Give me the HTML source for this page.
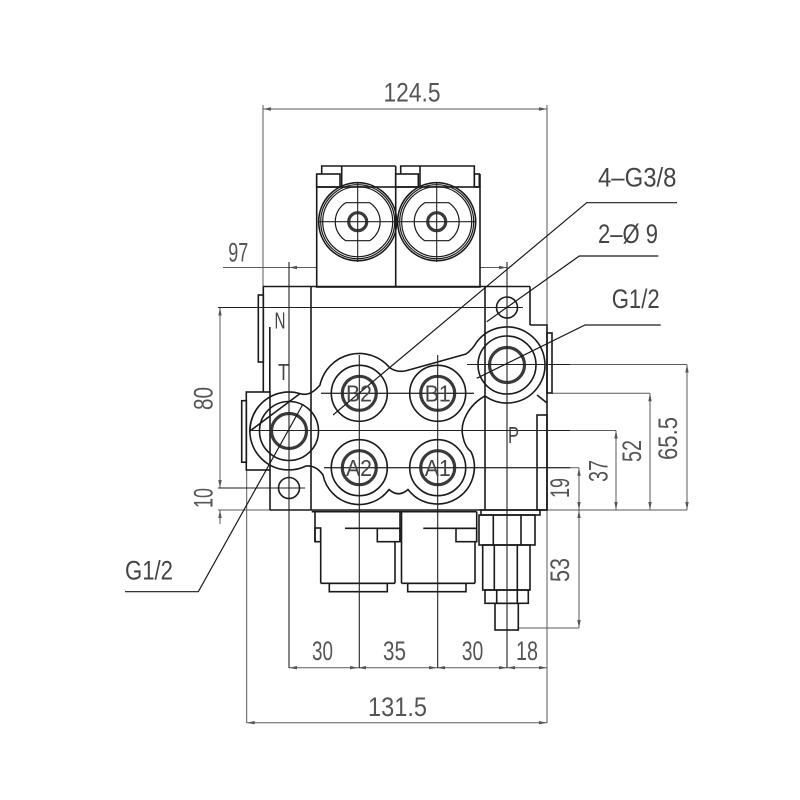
<!DOCTYPE html>
<html><head><meta charset="utf-8">
<style>
html,body{margin:0;padding:0;background:#fff;}
svg{display:block;}
.o{stroke:#1a1a1a;stroke-width:1.6;fill:none;}
.t{stroke:#1a1a1a;stroke-width:1.2;fill:none;}
.d{stroke:#5a5a5a;stroke-width:1;fill:none;}
.c{stroke:#222;stroke-width:1.1;fill:none;}
.b{stroke:#3a3a3a;stroke-width:3.2;fill:none;}
.a{fill:#555;stroke:none;}
text{font-family:"Liberation Sans",sans-serif;fill:#555;}
.lb{fill:#444;}
</style></head><body>
<svg width="800" height="800" viewBox="0 0 800 800" xmlns="http://www.w3.org/2000/svg">
<rect width="800" height="800" fill="#fff"/>

<!-- ===== Dimension / extension lines ===== -->
<g class="d">
  <!-- 124.5 -->
  <line x1="263" y1="109" x2="547" y2="109"/>
  <line x1="263" y1="105" x2="263" y2="287"/>
  <line x1="547" y1="105" x2="547" y2="325"/>
  <!-- 97 -->
  <line x1="223" y1="267.5" x2="507" y2="267.5"/>
  <!-- 80 / 10 -->
  <line x1="220" y1="307.5" x2="220" y2="488"/>
  <line x1="218" y1="307.5" x2="523" y2="307.5"/>
  <line x1="218" y1="488" x2="305" y2="488"/>
  <line x1="220" y1="510" x2="220" y2="524"/>
  <line x1="218" y1="510" x2="270" y2="510"/>
  <!-- right vertical dims -->
  <line x1="467" y1="364.5" x2="687" y2="364.5"/>
  <line x1="687" y1="364.5" x2="687" y2="510"/>
  <line x1="547" y1="510" x2="687" y2="510"/>
  <line x1="552" y1="393.3" x2="650" y2="393.3"/>
  <line x1="650" y1="393.3" x2="650" y2="510"/>
  <line x1="252" y1="430.5" x2="616" y2="430.5"/>
  <line x1="616" y1="430.5" x2="616" y2="510"/>
  <line x1="324" y1="467.7" x2="579" y2="467.7"/>
  <line x1="579" y1="467.7" x2="579" y2="628"/>
  <line x1="519" y1="628" x2="579" y2="628"/>
  <!-- bottom chain -->
  <line x1="289" y1="667.7" x2="547" y2="667.7"/>
  <line x1="547" y1="510" x2="547" y2="723"/>
  <line x1="246.7" y1="470" x2="246.7" y2="723"/>
  <line x1="246.7" y1="722.7" x2="547" y2="722.7"/>
  <!-- B row centre line segments -->
  <line x1="321" y1="393.3" x2="474" y2="393.3"/>
</g>

<!-- arrowheads -->
<g class="a">
  <polygon points="263,109 271,107.3 271,110.7"/>
  <polygon points="547,109 539,107.3 539,110.7"/>
  <polygon points="289,267.5 297,265.8 297,269.2"/>
  <polygon points="507,267.5 499,265.8 499,269.2"/>
  <polygon points="220,307.5 218.3,315.5 221.7,315.5"/>
  <polygon points="220,488 218.3,480 221.7,480"/>
  <polygon points="220,510 218.3,518 221.7,518"/>
  <polygon points="687,364.5 685.3,372.5 688.7,372.5"/>
  <polygon points="687,510 685.3,502 688.7,502"/>
  <polygon points="650,393.3 648.3,401.3 651.7,401.3"/>
  <polygon points="650,510 648.3,502 651.7,502"/>
  <polygon points="616,430.5 614.3,438.5 617.7,438.5"/>
  <polygon points="616,510 614.3,502 617.7,502"/>
  <polygon points="579,467.7 577.3,475.7 580.7,475.7"/>
  <polygon points="579,510 577.3,502 580.7,502"/>
  <polygon points="579,510 577.3,518 580.7,518"/>
  <polygon points="579,628 577.3,620 580.7,620"/>
  <polygon points="289,667.7 297,666 297,669.4"/>
  <polygon points="358,667.7 350,666 350,669.4"/>
  <polygon points="358,667.7 366,666 366,669.4"/>
  <polygon points="437,667.7 429,666 429,669.4"/>
  <polygon points="437,667.7 445,666 445,669.4"/>
  <polygon points="507,667.7 499,666 499,669.4"/>
  <polygon points="507,667.7 515,666 515,669.4"/>
  <polygon points="547,667.7 539,666 539,669.4"/>
  <polygon points="246.7,722.7 254.7,721 254.7,724.4"/>
  <polygon points="547,722.7 539,721 539,724.4"/>
</g>

<!-- ===== Handle block (top) ===== -->
<g class="o">
  <rect x="316.7" y="187" width="163.3" height="100" fill="#fff"/>
  <line x1="316.7" y1="174" x2="316.7" y2="187"/>
  <line x1="480" y1="174" x2="480" y2="187"/>
  <line x1="395.7" y1="166" x2="395.7" y2="287"/>
  <polyline points="321.7,174 321.7,166 395.7,166"/>
  <line x1="341.7" y1="166" x2="341.7" y2="187"/>
  <rect x="316.7" y="174" width="23.3" height="13"/>
  <polyline points="400.7,174 400.7,166 474.3,166 474.3,187"/>
  <line x1="420" y1="166" x2="420" y2="187"/>
  <rect x="395.7" y="174" width="22.6" height="13"/>
  <rect x="474.3" y="174" width="5" height="13"/>
</g>
<g>
  <circle cx="357.7" cy="221.7" r="39" class="o"/>
  <circle cx="357.7" cy="221.7" r="37" class="t"/>
  <circle cx="357.7" cy="221.7" r="35" class="t"/>
  <path class="t" d="M345.7,202.7 L369.7,202.7 A22.5,22.5 0 0 1 369.7,240.7 L345.7,240.7 A22.5,22.5 0 0 1 345.7,202.7 Z"/>
  <circle cx="357.7" cy="221.7" r="9" class="b"/>
  <circle cx="436.7" cy="221.7" r="39" class="o"/>
  <circle cx="436.7" cy="221.7" r="37" class="t"/>
  <circle cx="436.7" cy="221.7" r="35" class="t"/>
  <path class="t" d="M424.7,202.7 L448.7,202.7 A22.5,22.5 0 0 1 448.7,240.7 L424.7,240.7 A22.5,22.5 0 0 1 424.7,202.7 Z"/>
  <circle cx="436.7" cy="221.7" r="9" class="b"/>
</g>
<g class="c">
  <line x1="319" y1="221.7" x2="397" y2="221.7"/>
  <line x1="357.7" y1="183" x2="357.7" y2="262"/>
  <line x1="398" y1="221.7" x2="475" y2="221.7"/>
  <line x1="436.7" y1="183" x2="436.7" y2="262"/>
</g>

<!-- ===== Main body ===== -->
<g class="o">
  <line x1="263" y1="286.5" x2="530" y2="286.5"/>
  <line x1="263.3" y1="286.5" x2="263.3" y2="392"/>
  <rect x="258.3" y="295" width="5" height="67"/>
  <line x1="269.8" y1="327" x2="269.8" y2="392"/>
  <rect x="246.3" y="392" width="23.7" height="78" fill="#fff"/>
  <rect x="241.7" y="400.7" width="4.6" height="61.5"/>
  <line x1="270" y1="470" x2="270" y2="510"/>
  <line x1="270" y1="510" x2="547" y2="510"/>
  <line x1="311" y1="286.5" x2="311" y2="510"/>
  <line x1="485" y1="286.5" x2="485" y2="510"/>
  <line x1="530" y1="286.5" x2="530" y2="325"/>
  <polyline points="530,325 547,325 547,403"/>
  <rect x="547" y="333" width="5" height="60"/>
  <line x1="537" y1="395" x2="547" y2="403"/>
  <line x1="547" y1="403" x2="547" y2="510"/>
  <rect x="537" y="415" width="10" height="95"/>
</g>

<!-- port cluster outline -->
<path class="o" fill="#fff" d="M250,431 A39,39 0 0 1 300,393.6 Q310,397 320,385 A40,40 0 0 1 389.6,367.6 Q397,373 407,370.5 L466,354 Q472,350 477,341.6 A38,38 0 1 1 485,396 C470,404 459,422 463,437 Q465,447 471.2,452 A37,37 0 0 1 408,489.5 Q398.5,498 389,489.5 A37,37 0 0 1 323,475 Q316,465 306,466 A39,39 0 1 1 300,393.6 Z"/>

<!-- port rings and bores -->
<g>
  <circle cx="289" cy="431" r="29.5" class="o"/>
  <circle cx="289" cy="431" r="17.5" class="b"/>
  <circle cx="507" cy="365" r="29" class="o"/>
  <circle cx="507" cy="365" r="17.5" class="b"/>
  <circle cx="359.3" cy="393.3" r="28" class="o"/>
  <circle cx="359.3" cy="393.3" r="17" class="b"/>
  <circle cx="437.7" cy="393.3" r="28" class="o"/>
  <circle cx="437.7" cy="393.3" r="17" class="b"/>
  <circle cx="359.3" cy="467.7" r="28" class="o"/>
  <circle cx="359.3" cy="467.7" r="17" class="b"/>
  <circle cx="437.7" cy="467.7" r="28" class="o"/>
  <circle cx="437.7" cy="467.7" r="17" class="b"/>
  <circle cx="507" cy="307.5" r="10.5" class="o" fill="#fff"/>
  <circle cx="289" cy="488" r="10.5" class="o" fill="#fff"/>
</g>

<!-- ===== Bottom caps ===== -->
<g class="o">
  <line x1="311.7" y1="511.7" x2="476.7" y2="511.7"/>
  <line x1="315" y1="511.7" x2="315" y2="541.7"/>
  <rect x="315" y="528" width="5.7" height="13.7"/>
  <line x1="320.7" y1="528" x2="320.7" y2="583.3"/>
  <line x1="320.7" y1="583.3" x2="395" y2="583.3"/>
  <line x1="395" y1="541.7" x2="395" y2="583.3"/>
  <line x1="400" y1="511.7" x2="400" y2="541.7"/>
  <rect x="377.3" y="528.3" width="22.7" height="13.4"/>
  <line x1="345" y1="528.3" x2="400" y2="528.3"/>
  <rect x="329.3" y="583.3" width="58" height="8.4"/>

  <line x1="401.5" y1="511.7" x2="401.5" y2="583.3"/>
  <line x1="401.5" y1="583.3" x2="475" y2="583.3"/>
  <line x1="475" y1="541.7" x2="475" y2="583.3"/>
  <line x1="476.7" y1="511.7" x2="476.7" y2="541.7"/>
  <rect x="456" y="528.3" width="20.7" height="13.4"/>
  <line x1="423.3" y1="528.3" x2="476.7" y2="528.3"/>
  <rect x="407.7" y="583.3" width="58.3" height="8.4"/>

  <!-- right fitting -->
  <rect x="481" y="510" width="59" height="5"/>
  <rect x="479" y="515" width="56" height="30"/>
  <line x1="493.3" y1="515" x2="493.3" y2="545"/>
  <line x1="521" y1="515" x2="521" y2="545"/>
  <rect x="482.7" y="545" width="47.3" height="45"/>
  <line x1="494.3" y1="545" x2="494.3" y2="590"/>
  <line x1="517.3" y1="545" x2="517.3" y2="590"/>
  <rect x="485" y="590" width="43.3" height="13.3"/>
  <line x1="496.7" y1="590" x2="496.7" y2="603.3"/>
  <line x1="517.3" y1="590" x2="517.3" y2="603.3"/>
  <rect x="495" y="603.3" width="23.3" height="26.7"/>
</g>

<!-- ===== Centre lines ===== -->
<g class="c">
  <line x1="289" y1="262" x2="289" y2="668"/>
  <line x1="507" y1="262" x2="507" y2="668"/>
  <line x1="359.3" y1="355" x2="359.3" y2="668"/>
  <line x1="437.7" y1="355" x2="437.7" y2="668"/>
  <line x1="218" y1="307.5" x2="523" y2="307.5"/>
  <line x1="218" y1="488" x2="305" y2="488"/>
  <line x1="467" y1="364.5" x2="570" y2="364.5"/>
  <line x1="252" y1="430.5" x2="570" y2="430.5"/>
  <line x1="324" y1="467.7" x2="570" y2="467.7"/>
  <line x1="321" y1="393.3" x2="474" y2="393.3"/>
</g>

<!-- ===== Leaders ===== -->
<g class="t">
  <polyline points="677,202.7 586.7,202.7 333,415"/>
  <polyline points="658.3,256 579.3,256 486.7,321.7"/>
  <polyline points="660.7,325 585,325 476.7,378.3"/>
  <polyline points="125,591.7 198.3,591.7 303,404"/>
</g>

<!-- ===== Text ===== -->
<g font-size="27">
  <text x="383.5" y="101.5" textLength="57" lengthAdjust="spacingAndGlyphs">124.5</text>
  <text x="228.3" y="261.5" textLength="20" lengthAdjust="spacingAndGlyphs">97</text>
  <text x="368" y="716" textLength="59" lengthAdjust="spacingAndGlyphs">131.5</text>
  <text x="312" y="660" textLength="21" lengthAdjust="spacingAndGlyphs">30</text>
  <text x="383" y="660" textLength="23" lengthAdjust="spacingAndGlyphs">35</text>
  <text x="461.7" y="660" textLength="21.6" lengthAdjust="spacingAndGlyphs">30</text>
  <text x="516" y="660" textLength="22" lengthAdjust="spacingAndGlyphs">18</text>

  <text transform="translate(202.5,398.5) rotate(-90)" x="-11.5" y="10" textLength="23" lengthAdjust="spacingAndGlyphs">80</text>
  <text transform="translate(202.5,498) rotate(-90)" x="-10" y="10" textLength="20" lengthAdjust="spacingAndGlyphs">10</text>
  <text transform="translate(667,438.5) rotate(-90)" x="-21.5" y="10" textLength="43" lengthAdjust="spacingAndGlyphs">65.5</text>
  <text transform="translate(631,451) rotate(-90)" x="-11" y="10" textLength="22" lengthAdjust="spacingAndGlyphs">52</text>
  <text transform="translate(597.5,471) rotate(-90)" x="-11" y="10" textLength="22" lengthAdjust="spacingAndGlyphs">37</text>
  <text transform="translate(559,488) rotate(-90)" x="-10" y="10" textLength="20" lengthAdjust="spacingAndGlyphs">19</text>
  <text transform="translate(559,570) rotate(-90)" x="-12" y="10" textLength="24" lengthAdjust="spacingAndGlyphs">53</text>

  <text class="lb" x="598" y="186.5" textLength="78.5" lengthAdjust="spacingAndGlyphs">4–G3/8</text>
  <text class="lb" x="598" y="243" textLength="60" lengthAdjust="spacingAndGlyphs">2–Ø 9</text>
  <text class="lb" x="611.7" y="308" textLength="48" lengthAdjust="spacingAndGlyphs">G1/2</text>
  <text class="lb" x="125" y="579.5" textLength="48" lengthAdjust="spacingAndGlyphs">G1/2</text>
</g>
<g font-size="23" class="lb">
  <text class="lb" x="346" y="401.5" textLength="26" lengthAdjust="spacingAndGlyphs">B2</text>
  <text class="lb" x="424.7" y="401.5" textLength="26" lengthAdjust="spacingAndGlyphs">B1</text>
  <text class="lb" x="346" y="476" textLength="26" lengthAdjust="spacingAndGlyphs">A2</text>
  <text class="lb" x="424.7" y="476" textLength="26" lengthAdjust="spacingAndGlyphs">A1</text>
  <text class="lb" x="274.5" y="328.5" textLength="11" lengthAdjust="spacingAndGlyphs">N</text>
  <text class="lb" x="278" y="380" textLength="11" lengthAdjust="spacingAndGlyphs">T</text>
  <text class="lb" x="508" y="443" textLength="11" lengthAdjust="spacingAndGlyphs">P</text>
</g>
</svg>
</body></html>
